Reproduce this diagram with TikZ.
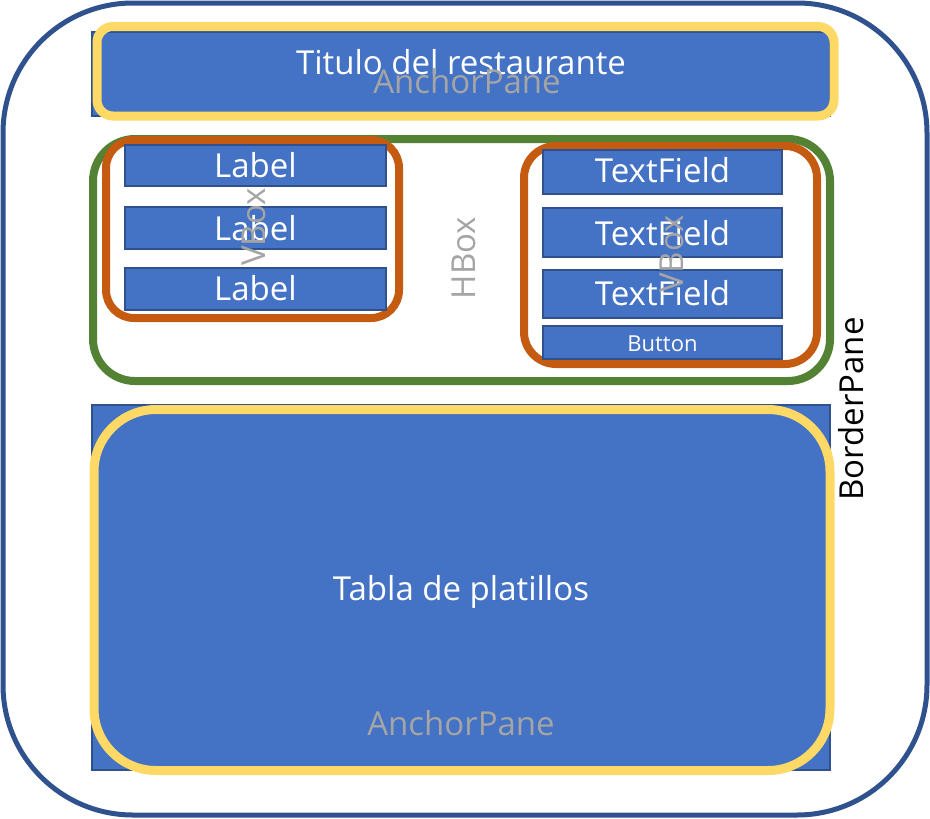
\documentclass[tikz,border=0pt]{standalone}
\usepackage{fontspec}
\setmainfont{Open Sans}
\definecolor{fxblue}{HTML}{4472C4}
\definecolor{fxedge}{HTML}{2F528F}
\definecolor{fxyellow}{HTML}{FFD966}
\definecolor{fxgreen}{HTML}{548235}
\definecolor{fxorange}{HTML}{C55A11}
\definecolor{fxgray}{HTML}{A5A5A5}
\begin{document}
\begin{tikzpicture}[x=1pt,y=-1pt,
	ctrl/.style={fill=fxblue,draw=fxedge,line width=1.5pt},
	anchorpane/.style={draw=fxyellow,line width=9pt},
	vbox/.style={draw=fxorange,line width=8pt},
	big/.style={font=\fontsize{33}{39}\selectfont,anchor=base},
	hint/.style={big,text=fxgray}]
	\useasboundingbox (0,0) rectangle (930,819);
	\fill[white] (0,0) rectangle (930,819);
	% BorderPane
	\draw[fxedge,line width=5pt,rounded corners=130pt] (3,3) rectangle (927,815);
	% top AnchorPane
	\draw[ctrl] (92,32) rectangle (830,116);
	\draw[anchorpane,rounded corners=16pt] (97,26.5) rectangle (834,116);
	\node[big,text=white] (titulo) at (461,74) {Titulo del restaurante};
	\node[hint] (anchortop) at (467,93) {AnchorPane};
	% HBox and the two VBox
	\draw[fxgreen,line width=8pt,rounded corners=42pt] (93,139) rectangle (830,381);
	\draw[vbox,rounded corners=28pt] (106,140) rectangle (399,318);
	\draw[vbox,rounded corners=32pt] (524,146) rectangle (817,364);
	\foreach \top/\bot/\base [count=\i] in {145/186/177, 207/249/240, 268/310/300} {
		\draw[ctrl] (125,\top) rectangle (386,\bot);
		\node[big,text=white] (label\i) at (255.5,\base) {Label};
	}
	\foreach \top/\bot/\base [count=\i] in {150/194/182, 208/257/245, 270/318/305} {
		\draw[ctrl] (543,\top) rectangle (782,\bot);
		\node[big,text=white] (field\i) at (662.5,\base) {TextField};
	}
	\draw[ctrl] (543,326) rectangle (782,359);
	\node[big,text=white,font=\fontsize{22}{26}\selectfont] (button) at (662.5,351) {Button};
	\node[hint,rotate=90] (vboxleft) at (265,227) {VBox};
	\node[hint,rotate=90] (hbox) at (475,258) {HBox};
	\node[hint,rotate=90] (vboxright) at (683,254) {VBox};
	% bottom AnchorPane
	\draw[ctrl] (92,405) rectangle (830,770);
	\draw[anchorpane,fill=fxblue,rounded corners=62pt] (94,409.5) rectangle (830,770.5);
	\node[big,text=white] (tabla) at (461,600) {Tabla de platillos};
	\node[hint] (anchorbottom) at (461,735) {AnchorPane};
	\node[big,rotate=90] (borderpane) at (863,409) {BorderPane};
\end{tikzpicture}
\end{document}
